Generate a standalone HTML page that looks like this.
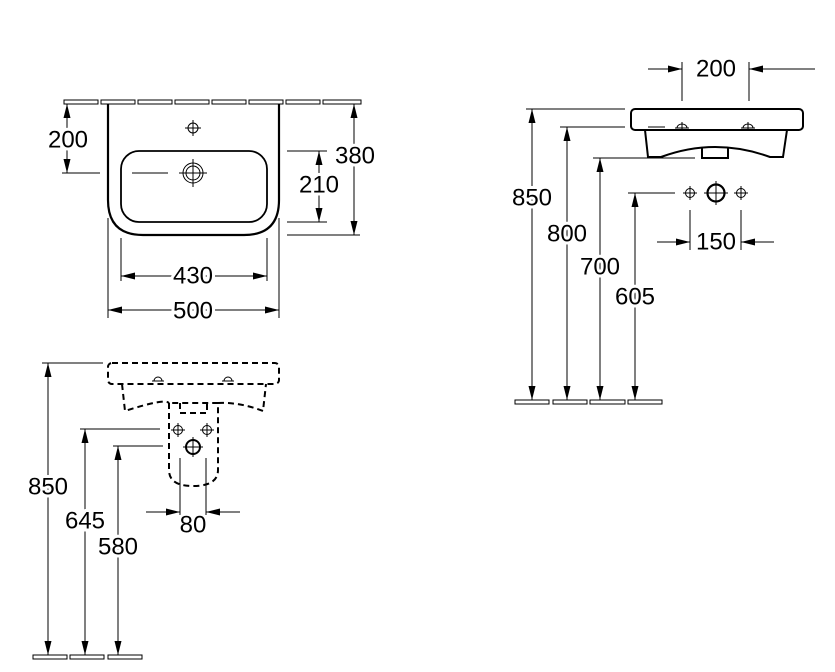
<!DOCTYPE html>
<html><head><meta charset="utf-8"><style>
html,body{margin:0;padding:0;background:#fff;}
svg{display:block;}
text{font-family:"Liberation Sans",Arial,sans-serif;font-size:24px;fill:#000;text-anchor:middle;dominant-baseline:central;stroke:#fff;stroke-width:6px;paint-order:stroke;}
</style></head><body>
<svg width="835" height="672" viewBox="0 0 835 672" xmlns="http://www.w3.org/2000/svg">
<defs>
<marker id="a" viewBox="0 0 14 7" refX="14" refY="3.5" markerWidth="14" markerHeight="7" markerUnits="userSpaceOnUse" orient="auto-start-reverse"><path d="M0,0 L14,3.5 L0,7 z" fill="#000"/></marker>
</defs>
<g fill="none" stroke="#000" stroke-width="1">
<!-- TOP LEFT -->
<rect x="64" y="100" width="34" height="4"/><rect x="101" y="100" width="34" height="4"/><rect x="138" y="100" width="34" height="4"/><rect x="175" y="100" width="34" height="4"/><rect x="212" y="100" width="34" height="4"/><rect x="249" y="100" width="34" height="4"/><rect x="286" y="100" width="34" height="4"/><rect x="323" y="100" width="38" height="4"/>
<path d="M108,104 V200 Q108,235 143,235 H244 Q279,235 279,200 V104" stroke-width="2.2"/>
<rect x="121" y="151" width="146" height="71" rx="18" stroke-width="1.8"/>
<circle cx="193" cy="128" r="5"/><path d="M185,128 H201 M193,120 V136"/>
<circle cx="193" cy="173" r="10"/><circle cx="193" cy="173" r="7"/><path d="M179,173 H207 M193,159 V187"/>
<path d="M132,173 H168"/>
<path d="M62,173 H100"/>
<path d="M67,104 V173" marker-start="url(#a)" marker-end="url(#a)"/>
<path d="M287,151 H327 M287,222 H327 M287,235 H360"/>
<path d="M319,151 V222" marker-start="url(#a)" marker-end="url(#a)"/>
<path d="M354,104 V235" marker-start="url(#a)" marker-end="url(#a)"/>
<path d="M121,238 V281 M267,238 V281 M108,218 V318 M279,218 V318"/>
<path d="M121,276 H267" marker-start="url(#a)" marker-end="url(#a)"/>
<path d="M108,310 H279" marker-start="url(#a)" marker-end="url(#a)"/>

<!-- RIGHT -->
<rect x="631" y="109" width="172" height="21" rx="4" stroke-width="2"/>
<path d="M645,130 L648,157 H661 Q715,137 770,157 H783 L787,130" stroke-width="2"/>
<path d="M702,147 V158 H728 V147" stroke-width="2"/>
<path d="M677,128 a5,4 0 1,1 10,0 M743,128 a5,4 0 1,1 10,0 M675,128 H689 M741,128 H755 M682,122 V131 M748,122 V131"/>
<path d="M648,127 H665"/>
<path d="M682,62 V101 M749,62 V101"/>
<path d="M648,69 H682" marker-end="url(#a)"/><path d="M815,69 H749" marker-end="url(#a)"/>
<path d="M526,109 H625 M560,127 H625 M593,158 H695 M628,193 H675"/>
<path d="M532,109 V400" marker-start="url(#a)" marker-end="url(#a)"/>
<path d="M567,127 V400" marker-start="url(#a)" marker-end="url(#a)"/>
<path d="M600,158 V400" marker-start="url(#a)" marker-end="url(#a)"/>
<path d="M635,193 V400" marker-start="url(#a)" marker-end="url(#a)"/>
<circle cx="690" cy="193" r="4.5"/><path d="M683,193 H697 M690,186 V200"/>
<circle cx="716" cy="193" r="8.5" stroke-width="2.2"/><path d="M704,193 H728 M716,181 V205"/>
<circle cx="741" cy="193" r="4.5"/><path d="M734,193 H748 M741,186 V200"/>
<path d="M690,210 V250 M741,210 V250"/>
<path d="M657,242 H690" marker-end="url(#a)"/><path d="M774,242 H741" marker-end="url(#a)"/>
<rect x="515" y="400" width="34" height="4"/><rect x="553" y="400" width="34" height="4"/><rect x="590" y="400" width="35" height="4"/><rect x="628" y="400" width="34" height="4"/>

<!-- BOTTOM LEFT -->
<g stroke-width="2" stroke-dasharray="6,4">
<rect x="108" y="363" width="171" height="21" rx="4"/>
<path d="M122,384 L125,411 Q165,398 169,403 M218,403 Q240,402 263,411 L266,384"/>
<path d="M169,403 V470 Q169,486 193,486 Q218,486 218,470 V403 H169"/>
<path d="M180,403 V413 H207 V403"/>
</g>
<path d="M154,381 a4,4 0 1,1 8,0 M224,381 a4,4 0 1,1 8,0 M152,381 H164 M222,381 H234"/>
<circle cx="178" cy="430" r="4.5"/><path d="M171,430 H185 M178,423 V437"/>
<circle cx="207" cy="430" r="4.5"/><path d="M200,430 H214 M207,423 V437"/>
<circle cx="193" cy="447" r="7" stroke-width="2"/><path d="M183,447 H203 M193,437 V457"/>
<path d="M180,458 V515 M206,458 V515"/>
<path d="M146,512 H180" marker-end="url(#a)"/><path d="M240,512 H206" marker-end="url(#a)"/>
<path d="M42,363 H103 M80,429 H160 M113,446 H163"/>
<path d="M48,363 V655" marker-start="url(#a)" marker-end="url(#a)"/>
<path d="M85,429 V655" marker-start="url(#a)" marker-end="url(#a)"/>
<path d="M118,446 V655" marker-start="url(#a)" marker-end="url(#a)"/>
<rect x="33" y="655" width="34" height="4"/><rect x="70" y="655" width="34" height="4"/><rect x="108" y="655" width="34" height="4"/>
</g>
<text x="68" y="140">200</text>
<text x="319" y="185">210</text>
<text x="355" y="156">380</text>
<text x="193" y="276">430</text>
<text x="193" y="311">500</text>
<text x="716" y="69">200</text>
<text x="532" y="198">850</text>
<text x="567" y="234">800</text>
<text x="600" y="267">700</text>
<text x="635" y="297">605</text>
<text x="716" y="242">150</text>
<text x="48" y="487">850</text>
<text x="85" y="521">645</text>
<text x="118" y="547">580</text>
<text x="193" y="525">80</text>
</svg>
</body></html>
